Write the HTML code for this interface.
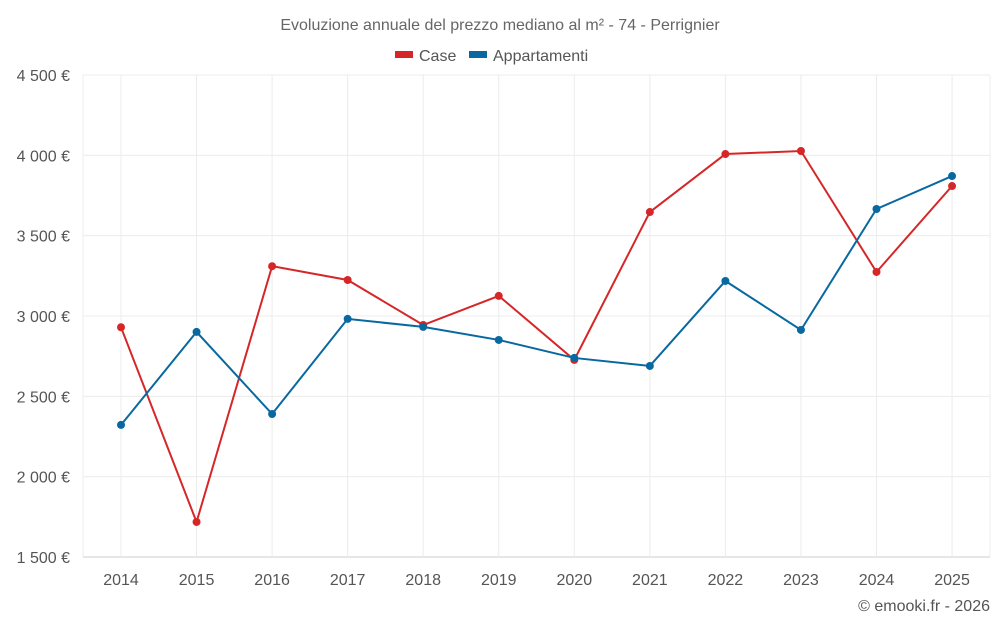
<!DOCTYPE html>
<html><head><meta charset="utf-8"><style>
body{margin:0;background:#fff;font-family:"Liberation Sans",sans-serif}
</style></head><body>
<svg id="c" width="1000" height="625" style="font-family:'Liberation Sans',sans-serif">
<text x="500" y="30" text-anchor="middle" font-size="16" fill="#666">Evoluzione annuale del prezzo mediano al m² - 74 - Perrignier</text>
<g>
<rect x="395" y="51" width="18" height="7" fill="#d62728"/>
<text x="419" y="61" font-size="16" fill="#555">Case</text>
<rect x="469" y="51" width="18" height="7" fill="#0868a0"/>
<text x="493" y="61" font-size="16" fill="#555">Appartamenti</text>
</g>
<g id="grid"></g><g id="axes"></g><g id="series"></g>
<text x="990" y="611" text-anchor="end" font-size="16" fill="#555">© emooki.fr - 2026</text>
</svg>
<script>
const years=[2014,2015,2016,2017,2018,2019,2020,2021,2022,2023,2024,2025];
const caseVals=[2930,1718,3310,3224,2944,3125,2727,3647,4008,4027,3274,3809];
const appVals=[2322,2901,2390,2982,2932,2851,2739,2689,3218,2913,3666,3871];
const yTicks=[1500,2000,2500,3000,3500,4000,4500];
const yTickLabels=["1 500 €","2 000 €","2 500 €","3 000 €","3 500 €","4 000 €","4 500 €"];
const NS="http://www.w3.org/2000/svg";
const L=83,R=990,T=75,B=557,x0=121,step=75.55;
const yMin=1500,yMax=4500;
function xs(i){return x0+i*step;}
function ys(v){return B-(v-yMin)/(yMax-yMin)*(B-T);}
function mk(tag,attrs,parent){const e=document.createElementNS(NS,tag);for(const k in attrs)e.setAttribute(k,attrs[k]);parent.appendChild(e);return e;}
const g=document.getElementById('grid'),ax=document.getElementById('axes'),s=document.getElementById('series');
yTicks.forEach((t,i)=>{
 const ln=mk('line',{x1:L,x2:R,y1:ys(t),y2:ys(t),stroke:i==0?'#ccc':'#ececec','stroke-width':1},g);
 
 
 const tx=mk('text',{x:70,y:ys(t)+6,'text-anchor':'end','font-size':16,fill:'#555'},ax);
 tx.textContent=yTickLabels[i];
 
 
});
[L].concat(years.map((y,i)=>xs(i)),[R]).forEach(x=>{
 const ln=mk('line',{x1:x,x2:x,y1:T,y2:B,stroke:'#ececec','stroke-width':1},g);
 
 
});
years.forEach((y,i)=>{
 const tx=mk('text',{x:xs(i),y:585,'text-anchor':'middle','font-size':16,fill:'#555'},ax);
 tx.textContent=y;
 
 
});
function series(vals,color,name){
 const p=mk('polyline',{points:vals.map((v,i)=>xs(i)+','+ys(v)).join(' '),fill:'none',stroke:color,'stroke-width':2},s);
 
 
 vals.forEach((v,i)=>{
  const c=mk('circle',{cx:xs(i),cy:ys(v),r:4,fill:color},s);
  
  
 });
}
series(caseVals,'#d62728','case');
series(appVals,'#0868a0','appartamenti');
</script>
</body></html>
